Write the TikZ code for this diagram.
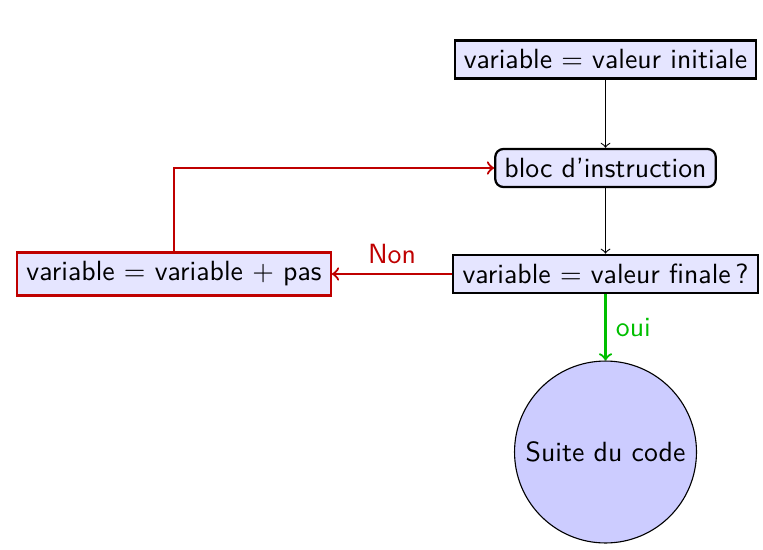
\documentclass[tikz,border=0pt]{standalone}
\usetikzlibrary{arrows}
\begin{document}
\begin{tikzpicture}[x=0.36pt,y=-0.36pt,font=\sffamily,
  boite/.style={draw,thick,fill=blue!10,inner sep=0.333em},
  boiterond/.style={boite,rounded corners=3pt},
  rond/.style={draw,circle,fill=blue!20,minimum size=65.5pt,inner sep=0pt},
  fleche/.style={->},
  rouge/.style={->,thick,red!75!black},
  vert/.style={->,thick,green!75!black}]
\useasboundingbox (0,0) rectangle (763,549);
\node[boite] (init) at (605.5,59.5) {variable $=$ valeur initiale};
\node[boiterond] (bloc) at (605.5,168) {bloc d'instruction};
\node[boite] (test) at (605.5,274) {variable $=$ valeur finale\,?};
\node[boite,draw=red!75!black] (incr) at (174,274) {variable $=$ variable $+$ pas};
\node[rond] (suite) at (605.5,452) {Suite du code};
\draw[fleche] (init) -- (bloc);
\draw[fleche] (bloc) -- (test);
\draw[rouge] (test) -- node[above,red!75!black] {Non} (incr);
\draw[rouge] (incr.north) |- (bloc.west);
\draw[vert] (test) -- node[right,green!75!black] {oui} (suite);
\end{tikzpicture}
\end{document}
